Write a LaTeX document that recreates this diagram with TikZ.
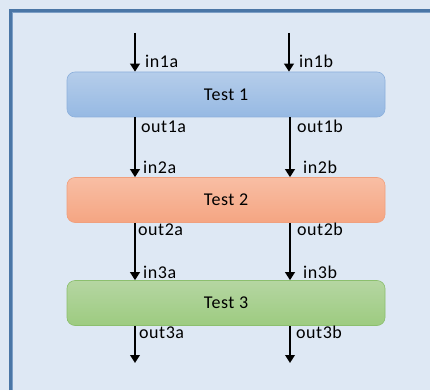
\documentclass[tikz,border=0pt]{standalone}
\usepackage{fontspec}
\setmainfont[LetterSpace=3]{Carlito}
\usetikzlibrary{arrows.meta,positioning}
\definecolor{pagebg}{HTML}{DEE8F4}
\definecolor{framedark}{HTML}{4A76A6}
\definecolor{framelight}{HTML}{7D9FC6}
\definecolor{blueTop}{HTML}{B5CDEA}
\definecolor{blueBot}{HTML}{96B9E3}
\definecolor{blueLine}{HTML}{8DB0DC}
\definecolor{redTop}{HTML}{F8BEA4}
\definecolor{redBot}{HTML}{F5A582}
\definecolor{redLine}{HTML}{F0A07E}
\definecolor{greenTop}{HTML}{B5D6A2}
\definecolor{greenBot}{HTML}{9DCB80}
\definecolor{greenLine}{HTML}{8CBF6E}

\begin{document}
\begin{tikzpicture}[x=1pt,y=-1pt,
    test/.style={rounded corners=8pt, minimum width=318pt, minimum height=45pt,
      inner sep=0pt, line width=0.6pt, font=\fontsize{18}{18}\selectfont},
    lbl/.style={inner sep=0pt, anchor=base west, font=\fontsize{18}{18}\selectfont},
    flow/.style={line width=2.8pt, -{Triangle[width=9.5pt,length=8pt]}}]
  \fill[pagebg] (0,0) rectangle (430,390);
  \useasboundingbox (0,0) rectangle (430,390);
  \draw[framedark, line width=3pt] (10.5,390) -- (10.5,10.5) -- (430,10.5);
  \draw[framelight, line width=1.2pt] (12.6,390) -- (12.6,12.6) -- (430,12.6);

  % the three tests
  \node[test, draw=blueLine, top color=blueTop, bottom color=blueBot] (t1) at (226,94.5) {Test 1};
  \node[test, draw=redLine, top color=redTop, bottom color=redBot] (t2) at (226,200) {Test 2};
  \node[test, draw=greenLine, top color=greenTop, bottom color=greenBot] (t3) at (226,303) {Test 3};

  % free ends
  \coordinate (ia) at (135,33);
  \coordinate (ib) at (289,33);
  \coordinate (oa) at (135,363);
  \coordinate (ob) at (290,363);

  \draw[flow] (ia) -- (ia |- t1.north);
  \draw[flow] (ib) -- (ib |- t1.north);
  \draw[flow] (t1.south -| oa) -- (t2.north -| oa);
  \draw[flow] (t1.south -| ob) -- (t2.north -| ob);
  \draw[flow] (t2.south -| oa) -- (t3.north -| oa);
  \draw[flow] (t2.south -| ob) -- (t3.north -| ob);
  \draw[flow] (t3.south -| oa) -- (oa);
  \draw[flow] (t3.south -| ob) -- (ob);

  % labels
  \node[lbl] (in1a) at (145,68) {in1a};
  \node[lbl] (in1b) at (299,68) {in1b};
  \node[lbl] (out1a) at (141,132) {out1a};
  \node[lbl] (out1b) at (297,132) {out1b};
  \node[lbl] (in2a) at (143,173) {in2a};
  \node[lbl] (in2b) at (303,173) {in2b};
  \node[lbl] (out2a) at (138,235) {out2a};
  \node[lbl] (out2b) at (297,235) {out2b};
  \node[lbl] (in3a) at (143,278) {in3a};
  \node[lbl] (in3b) at (303,278) {in3b};
  \node[lbl] (out3a) at (139,338) {out3a};
  \node[lbl] (out3b) at (296,338) {out3b};
\end{tikzpicture}
\end{document}
